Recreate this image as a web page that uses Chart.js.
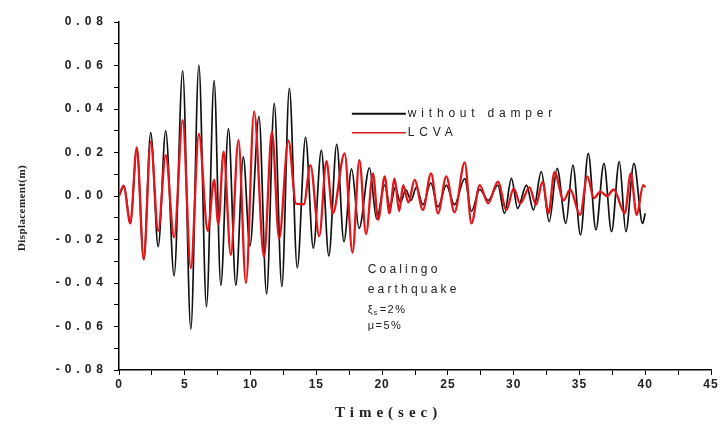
<!DOCTYPE html>
<html>
<head>
<meta charset="utf-8">
<script src="https://cdn.jsdelivr.net/npm/chart.js@4.4.1/dist/chart.umd.min.js"></script>
<style>
  html, body { margin: 0; padding: 0; background: #fff; }
</style>
</head>
<body>
<canvas id="c" width="720" height="429"></canvas>
<script>
// response peaks/troughs (time in sec, displacement in m)
const tBlack = [0, 0.38, 0.87, 1.35, 1.88, 2.41, 2.98, 3.55, 4.19, 4.84, 5.46, 6.07, 6.65, 7.23, 7.74, 8.32, 8.88, 9.45, 9.95,
  10.64, 11.22, 11.8, 12.38, 12.95, 13.55, 14.18, 14.77, 15.38, 15.95, 16.55, 17.1, 17.68, 18.25, 19.04, 19.58,
  20.2, 20.6, 21.0, 21.4, 21.8, 22.2, 22.6, 23.1, 23.7, 24.25, 24.88, 25.5, 26.28, 26.79, 27.42, 28.06, 28.8, 29.3,
  29.83, 30.3, 30.97, 31.5, 32.1, 32.7, 33.3, 33.97, 34.5, 35.08, 35.67, 36.25, 36.86, 37.44, 38.03, 38.53, 39.14, 39.8, 40];
const vBlack = [0, 0.0043, -0.0126, 0.022, -0.029, 0.0292, -0.0233, 0.030, -0.0367, 0.0575, -0.0612, 0.0602, -0.051, 0.053, -0.041, 0.031, -0.041, 0.018, -0.023,
  0.0365, -0.045, 0.0426, -0.0417, 0.0495, -0.033, 0.027, -0.024, 0.021, -0.0275, 0.0238, -0.021, 0.0125, -0.0149, 0.013, -0.0105,
  0.005, -0.005, 0.004, -0.003, 0.003, -0.002, 0.004, -0.004, 0.006, -0.005, 0.005, -0.004, 0.008, -0.007, 0.003, -0.002, 0.005, -0.008,
  0.0081, -0.0057, 0.005, -0.0064, 0.0112, -0.0118, 0.0127, -0.0126, 0.0142, -0.0179, 0.0196, -0.0156, 0.015, -0.0164, 0.0158, -0.0164, 0.015, -0.0126, -0.008];

const tRed = [0, 0.35, 0.86, 1.35, 1.88, 2.41, 2.98, 3.55, 4.19, 4.84, 5.46, 6.07, 6.75, 7.23, 7.55, 7.95, 8.5, 9.08, 9.65,
  10.27, 11.02, 11.63, 12.17, 12.88, 13.45, 14.05, 14.55, 15.22, 15.77, 16.25, 17.15, 17.75, 18.27, 18.78, 19.3, 19.7,
  20.2, 20.55, 20.95, 21.3, 21.6, 22.0, 22.47, 23.1, 23.72, 24.25, 24.88, 25.5, 26.28, 26.79, 27.42, 28.06, 28.8, 29.45,
  30.0, 30.5, 31.2, 31.7, 32.2, 32.65, 33.1, 33.8, 34.3, 35.05, 35.6, 36.1, 36.6, 37.1, 37.6, 38.45, 38.9, 39.35, 39.85, 40];
const vRed = [0, 0.0048, -0.0126, 0.0224, -0.0292, 0.025, -0.016, 0.0188, -0.019, 0.0349, -0.0332, 0.0285, -0.016, 0.0074, -0.013, 0.0204, -0.027, 0.0257, -0.040,
  0.0388, -0.028, 0.0296, -0.0195, 0.0255, -0.0035, -0.0038, 0.0142, -0.0185, 0.016, -0.008, 0.0196, -0.026, 0.0165, -0.0175, 0.0104, -0.011,
  0.009, -0.008, 0.008, -0.007, 0.005, -0.003, 0.0074, -0.0064, 0.0104, -0.008, 0.009, -0.0075, 0.0155, -0.0126, 0.005, -0.0034, 0.0066, -0.0064,
  0.0035, -0.0035, 0.004, -0.004, 0.0066, -0.008, 0.011, -0.002, 0.003, -0.0087, 0.009, -0.001, 0.002, 0.0, 0.003, -0.008, 0.0104, -0.0087, 0.005, 0.004];

const seriesNames = ["without damper", "LCVA"];
const noteLines = ["Coalingo", "earthquake"];

const toPts = (ts, vs) => ts.map((t, i) => ({ x: t, y: vs[i] }));

const tickFont = { family: "Liberation Sans, Arial, sans-serif", size: 12, weight: "bold" };

// y ticks are drawn with wide spacing, x tick labels (z:1) come after the datasets with narrow spacing
const extras = {
  id: "extras",
  beforeDraw(chart) {
    chart.ctx.letterSpacing = "5px";
  },
  beforeDatasetsDraw(chart) {
    chart.ctx.letterSpacing = "1px";
  },
  afterDraw(chart) {
    const ctx = chart.ctx;
    const a = chart.chartArea;
    ctx.save();
    ctx.fillStyle = "#222";

    // y title
    ctx.letterSpacing = "0.4px";
    ctx.font = "bold 11px 'Liberation Serif', serif";
    ctx.textAlign = "center";
    ctx.textBaseline = "middle";
    ctx.save();
    ctx.translate(22, (a.top + a.bottom) / 2 + 12);
    ctx.rotate(-Math.PI / 2);
    ctx.fillText("Displacement(m)", 0, 0);
    ctx.restore();

    // x title
    ctx.letterSpacing = "5px";
    ctx.font = "bold 15px 'Liberation Serif', serif";
    ctx.textAlign = "left";
    ctx.fillText("Time(sec)", 335, 413);

    // legend
    const lx = chart.scales.x.getPixelForValue(17.7);
    const ly = chart.scales.y.getPixelForValue(0.0378);
    const ds = chart.data.datasets;
    ctx.font = "12px 'Liberation Sans', Arial, sans-serif";
    ctx.letterSpacing = "4.8px";
    ds.forEach((d, i) => {
      const y = ly + i * 19;
      ctx.strokeStyle = d.borderColor;
      ctx.lineWidth = i === 0 ? 2 : 1.6;
      ctx.beginPath();
      ctx.moveTo(lx, y);
      ctx.lineTo(lx + 54, y);
      ctx.stroke();
      ctx.fillStyle = "#222";
      ctx.fillText(d.label, lx + 56, y);
    });

    // note
    const nx = chart.scales.x.getPixelForValue(18.9);
    const ny = chart.scales.y.getPixelForValue(-0.034);
    ctx.letterSpacing = "3.2px";
    ctx.font = "12px 'Liberation Sans', Arial, sans-serif";
    noteLines.forEach((s, i) => ctx.fillText(s, nx, ny + i * 20));
    ctx.letterSpacing = "1.5px";
    ctx.font = "11px 'Liberation Sans', Arial, sans-serif";
    let y3 = ny + 40;
    ctx.fillText("ξ", nx, y3);
    ctx.font = "7px 'Liberation Sans', Arial, sans-serif";
    ctx.fillText("s", nx + 6, y3 + 3);
    ctx.font = "11px 'Liberation Sans', Arial, sans-serif";
    ctx.fillText("=2%", nx + 12, y3);
    ctx.fillText("μ=5%", nx, y3 + 16);
    ctx.restore();
  }
};

new Chart(document.getElementById("c"), {
  type: "scatter",
  data: {
    datasets: [
      {
        label: seriesNames[0],
        data: toPts(tBlack, vBlack),
        showLine: true,
        borderColor: "#111111",
        borderWidth: 1.7,
        pointRadius: 0,
        cubicInterpolationMode: "monotone",
        order: 2
      },
      {
        label: seriesNames[1],
        data: toPts(tRed, vRed),
        showLine: true,
        borderColor: "#e0161b",
        borderWidth: 2.3,
        pointRadius: 0,
        cubicInterpolationMode: "monotone",
        order: 1
      }
    ]
  },
  options: {
    responsive: false,
    animation: false,
    layout: { padding: { top: 22, right: 9, left: 0, bottom: 0 } },
    plugins: { legend: { display: false }, tooltip: { enabled: false } },
    scales: {
      x: {
        type: "linear",
        min: 0,
        max: 45,
        afterFit: s => { s.height = 59; },
        ticks: {
          z: 1,
          stepSize: 2.5,
          autoSkip: false,
          maxRotation: 0,
          padding: 2,
          color: "#222",
          font: tickFont,
          callback: v => (v % 5 === 0 ? String(v) : "")
        },
        grid: { drawOnChartArea: false, tickLength: 5, color: "#000" },
        border: { color: "#000", width: 1.5 }
      },
      y: {
        min: -0.08,
        max: 0.08,
        afterFit: s => { s.width = 119; },
        ticks: {
          stepSize: 0.01,
          autoSkip: false,
          padding: 6,
          color: "#222",
          font: tickFont,
          callback: v => {
            const r = Math.round(v * 100);
            return r % 2 === 0 ? (r / 100).toFixed(2) : "";
          }
        },
        grid: { drawOnChartArea: false, tickLength: 5, color: "#000" },
        border: { color: "#000", width: 1.5 }
      }
    }
  },
  plugins: [extras]
});
</script>
</body>
</html>
